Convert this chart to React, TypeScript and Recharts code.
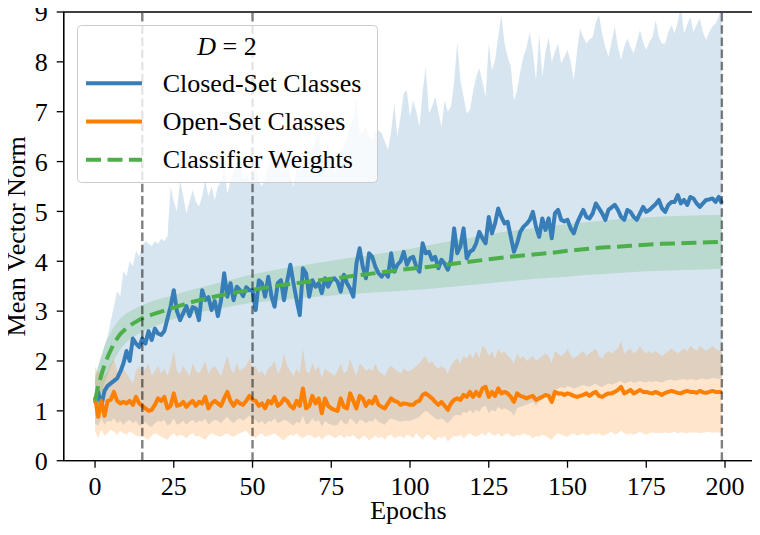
import React from 'react';
import {
  ComposedChart,
  Line,
  Area,
  XAxis,
  YAxis,
  ReferenceLine,
  ReferenceArea,
  Legend,
  Label,
} from 'recharts';

const FONT = '"Liberation Serif", "Times New Roman", Times, serif';
const C_BLUE = '#377eb8';
const C_ORANGE = '#ff7f00';
const C_GREEN = '#4daf4a';

const seriesNames = ['Closed-Set Classes', 'Open-Set Classes', 'Classifier Weights'];
const xTicks = [0, 25, 50, 75, 100, 125, 150, 175, 200];
const yTicks = [0, 1, 2, 3, 4, 5, 6, 7, 8, 9];
const markerEpochs = [15, 50, 199];

const epochs = Array.from({ length: 200 }, (_, i) => i);

const closedMean = [
  1.15, 1.38, 1.1, 1.4, 1.5, 1.55, 1.6, 1.65, 1.78, 1.95,
  2.2, 2.0, 2.45, 2.35, 2.28, 2.45, 2.35, 2.6, 2.42, 2.65,
  2.55, 2.52, 2.6, 2.85, 3.1, 3.42, 3.0, 2.82, 2.96, 3.1,
  2.9, 3.08, 3.05, 2.82, 3.42, 3.22, 3.28, 3.02, 3.2, 2.9,
  3.22, 3.76, 3.29, 3.56, 3.22, 3.49, 3.42, 3.3, 3.48, 3.42,
  3.42, 3.02, 3.62, 3.56, 3.29, 3.69, 3.3, 3.09, 3.56, 3.62,
  3.22, 3.6, 3.93, 3.56, 3.22, 2.92, 3.86, 3.76, 3.29, 3.62,
  3.49, 3.56, 3.36, 3.66, 3.49, 3.62, 3.66, 3.59, 3.39, 3.73,
  3.56, 3.45, 3.29, 3.96, 4.26, 3.89, 3.66, 4.16, 4.09, 3.89,
  3.76, 3.69, 3.79, 3.69, 4.16, 3.79, 3.93, 4.0, 4.19, 3.93,
  4.06, 4.09, 3.89, 3.79, 4.36, 4.16, 4.19, 4.03, 4.09, 3.86,
  4.03, 3.95, 3.83, 4.03, 4.66, 4.16, 4.3, 4.66, 4.06, 4.19,
  4.23, 4.36, 4.59, 4.46, 4.36, 4.89, 4.56, 4.76, 5.06, 4.89,
  4.76, 4.79, 4.49, 4.19, 4.36, 4.59, 4.69, 4.75, 4.83, 4.99,
  4.69, 4.49, 4.86, 4.63, 4.86, 4.46, 4.96, 5.03, 4.83, 4.8,
  4.83, 4.66, 4.56, 4.76, 4.9, 5.03, 4.89, 4.86, 4.96, 5.16,
  5.06, 4.96, 4.83, 5.03, 5.08, 5.13, 5.03, 4.89, 4.83, 5.03,
  4.99, 4.89, 4.83, 4.96, 5.09, 4.99, 5.03, 5.09, 5.15, 5.23,
  5.06, 4.99, 5.13, 5.19, 5.19, 5.33, 5.16, 5.23, 5.13, 5.29,
  5.26, 5.16, 5.09, 5.16, 5.23, 5.24, 5.26, 5.19, 5.29, 5.16,
];

const closedHigh = [
  1.7, 1.9, 2.1, 2.3, 2.5, 2.8, 3.1, 3.4, 3.3, 3.8,
  3.7, 4.0, 3.9, 4.2, 4.1, 4.3, 4.4, 4.35, 4.3, 4.4,
  4.35, 4.45, 4.4, 4.5, 5.5, 5.2, 5.0, 5.63, 5.3, 4.96,
  5.2, 5.43, 5.2, 5.1, 5.3, 5.63, 5.3, 5.5, 5.23, 5.5,
  5.6, 5.9, 5.36, 5.6, 5.8, 6.0, 6.3, 5.63, 5.8, 5.6,
  5.7, 5.9, 5.6, 5.5, 5.7, 5.9, 6.1, 5.9, 6.43, 5.76,
  5.9, 6.1, 5.7, 5.5, 5.9, 5.8, 6.0, 6.17, 6.0, 6.3,
  6.4, 6.57, 6.1, 6.2, 6.37, 6.0, 5.76, 6.0, 6.23, 6.3,
  6.5, 6.7, 6.9, 7.3, 6.57, 6.6, 6.7, 6.5, 6.43, 6.6,
  6.63, 6.57, 6.4, 6.23, 6.6, 7.17, 6.5, 6.9, 7.37, 7.43,
  6.9, 7.23, 7.0, 6.7, 7.4, 7.9, 6.97, 7.1, 7.3, 7.0,
  6.7, 7.23, 7.0, 7.1, 7.6, 8.4, 7.63, 7.3, 6.97, 7.03,
  7.4, 7.7, 7.87, 7.6, 7.3, 8.37, 7.83, 8.04, 8.5, 8.94,
  8.37, 8.1, 7.9, 7.23, 7.43, 7.8, 8.1, 8.3, 8.6, 8.2,
  7.63, 8.57, 7.7, 8.2, 8.5, 8.0, 8.2, 8.37, 7.97, 8.1,
  8.24, 8.0, 7.63, 8.2, 8.67, 8.5, 8.37, 8.45, 8.5, 8.8,
  8.94, 8.57, 8.3, 8.1, 8.4, 8.71, 8.3, 8.04, 8.3, 8.47,
  8.3, 8.17, 8.4, 8.64, 8.4, 8.24, 8.4, 8.5, 8.84, 8.5,
  8.37, 8.37, 8.6, 8.74, 8.57, 8.8, 9.1, 8.57, 8.75, 8.9,
  8.6, 8.75, 8.87, 8.6, 8.44, 8.6, 8.71, 8.77, 8.9, 9.2,
];

const closedLow = [
  0.75, 0.7, 0.85, 0.72, 0.8, 0.78, 0.85, 0.75, 0.8, 0.72,
  0.78, 0.82, 0.75, 0.8, 0.7, 0.72, 0.78, 0.7, 0.68, 0.75,
  0.8, 0.78, 0.82, 0.7, 0.75, 0.85, 0.72, 0.75, 0.8, 0.72,
  0.78, 0.82, 0.75, 0.8, 0.78, 0.85, 0.72, 0.78, 0.82, 0.8,
  0.75, 0.82, 0.88, 0.8, 0.75, 0.82, 0.85, 0.8, 0.85, 0.9,
  0.85, 0.82, 0.75, 0.8, 0.72, 0.8, 0.78, 0.85, 0.75, 0.78,
  0.82, 0.8, 0.75, 0.7, 0.78, 0.75, 0.9, 0.72, 0.75, 0.85,
  0.78, 0.82, 0.68, 0.8, 0.75, 0.72, 0.7, 0.72, 0.82, 0.75,
  0.72, 0.85, 0.8, 0.72, 0.82, 0.8, 0.75, 0.8, 0.78, 0.85,
  0.78, 0.75, 0.72, 0.8, 0.85, 0.82, 0.8, 0.78, 0.8, 0.8,
  0.8, 0.82, 0.85, 0.88, 0.95, 1.0, 0.95, 0.9, 0.85, 0.82,
  0.85, 0.8, 0.75, 0.82, 0.9, 0.92, 0.9, 0.98, 0.95, 1.02,
  0.95, 1.02, 0.98, 1.08, 1.1, 0.95, 1.02, 0.98, 1.08, 1.02,
  1.05, 1.02, 0.98, 0.9, 1.05, 1.08, 1.1, 1.12, 1.15, 1.18,
  1.1, 1.2, 1.25, 1.3, 1.28, 1.2, 1.42, 1.45, 1.48, 1.45,
  1.5, 1.48, 1.45, 1.47, 1.5, 1.52, 1.5, 1.48, 1.52, 1.55,
  1.5, 1.48, 1.52, 1.55, 1.53, 1.55, 1.58, 1.6, 1.55, 1.57,
  1.6, 1.56, 1.58, 1.6, 1.58, 1.57, 1.6, 1.58, 1.6, 1.58,
  1.57, 1.6, 1.62, 1.63, 1.6, 1.62, 1.63, 1.64, 1.62, 1.64,
  1.63, 1.62, 1.64, 1.65, 1.63, 1.64, 1.66, 1.65, 1.64, 1.66,
];

const openMean = [
  1.28, 0.88, 1.2, 0.9, 1.2, 1.22, 1.38, 1.2, 1.15, 1.18,
  1.15, 1.2, 1.12, 1.28, 1.15, 1.1, 1.05, 1.0, 1.02, 1.12,
  1.25, 1.2, 1.28, 1.05, 1.1, 1.35, 1.1, 1.12, 1.18, 1.08,
  1.15, 1.2, 1.1, 1.18, 1.15, 1.28, 1.05, 1.15, 1.2, 1.15,
  1.1, 1.25, 1.38, 1.2, 1.1, 1.2, 1.15, 1.12, 1.2, 1.3,
  1.22, 1.2, 1.1, 1.15, 1.05, 1.2, 1.15, 1.28, 1.1, 1.15,
  1.25, 1.2, 1.1, 1.05, 1.2, 1.1, 1.45, 1.05, 1.1, 1.3,
  1.15, 1.25, 0.95, 1.25, 1.1, 1.05, 1.02, 1.0, 1.25, 1.08,
  1.05, 1.35, 1.2, 1.05, 1.3, 1.25, 1.1, 1.2, 1.15, 1.28,
  1.12, 1.08, 1.05, 1.15, 1.25, 1.2, 1.18, 1.12, 1.15, 1.14,
  1.12, 1.12, 1.18, 1.2, 1.32, 1.35, 1.3, 1.25, 1.18, 1.12,
  1.18, 1.1, 1.02, 1.15, 1.22, 1.25, 1.22, 1.32, 1.28, 1.38,
  1.28, 1.38, 1.3, 1.45, 1.48, 1.28, 1.38, 1.3, 1.45, 1.35,
  1.38, 1.35, 1.28, 1.18, 1.35, 1.3, 1.28, 1.25, 1.28, 1.3,
  1.22, 1.25, 1.28, 1.32, 1.3, 1.18, 1.38, 1.35, 1.35, 1.32,
  1.35, 1.33, 1.3, 1.28, 1.3, 1.32, 1.35, 1.3, 1.35, 1.38,
  1.3, 1.28, 1.32, 1.35, 1.35, 1.38, 1.42, 1.48, 1.35, 1.38,
  1.42, 1.35, 1.38, 1.42, 1.38, 1.38, 1.36, 1.35, 1.38, 1.35,
  1.32, 1.36, 1.38, 1.4, 1.38, 1.36, 1.35, 1.38, 1.4, 1.38,
  1.38, 1.36, 1.4, 1.37, 1.36, 1.38, 1.4, 1.38, 1.38, 1.38,
];

const openHigh = [
  1.9, 1.75, 1.85, 1.7, 1.8, 1.95, 2.05, 1.8, 1.7, 1.85,
  1.75, 1.65, 1.55, 1.8, 1.9, 1.75, 1.85, 1.95, 1.7, 1.8,
  1.9, 1.75, 1.85, 1.7, 1.9, 2.2, 1.8, 1.75, 1.9, 1.8,
  1.7, 1.95, 1.8, 1.75, 1.85, 2.0, 1.75, 1.85, 1.9, 1.8,
  1.7, 1.9, 2.1, 1.85, 1.75, 1.95, 1.8, 1.85, 1.9, 2.05,
  1.85, 1.9, 1.75, 1.8, 1.7, 1.85, 1.9, 2.0, 1.75, 1.85,
  2.15, 1.9, 1.8, 1.7, 1.85, 1.75, 2.25, 1.8, 1.75, 1.95,
  1.8, 1.9, 1.65, 1.85, 1.8, 1.75, 1.7, 1.8, 1.95, 1.75,
  1.8, 2.05, 1.85, 1.7, 1.95, 1.9, 1.8, 1.85, 1.8, 1.95,
  1.8, 1.75, 1.7, 1.85, 1.9, 1.85, 1.8, 1.75, 1.85, 1.8,
  1.8, 1.85, 1.9, 1.95, 2.05, 2.1, 1.95, 2.0, 1.9, 1.85,
  1.9, 1.85, 1.75, 1.9, 2.0, 2.05, 1.95, 2.1, 2.05, 2.15,
  2.05, 2.2, 2.05, 2.3, 2.25, 2.1, 2.2, 2.05, 2.25, 2.15,
  2.2, 2.1, 2.05, 1.95, 2.15, 2.05, 2.1, 2.0, 2.05, 2.1,
  2.0, 2.05, 2.1, 2.15, 2.1, 1.95, 2.2, 2.15, 2.1, 2.15,
  2.25, 2.1, 2.05, 2.1, 2.15, 2.2, 2.1, 2.15, 2.2, 2.25,
  2.1, 2.05, 2.15, 2.2, 2.15, 2.2, 2.25, 2.4, 2.15, 2.2,
  2.25, 2.15, 2.2, 2.3, 2.2, 2.15, 2.2, 2.15, 2.2, 2.15,
  2.1, 2.15, 2.2, 2.25, 2.2, 2.15, 2.2, 2.25, 2.2, 2.3,
  2.25, 2.2, 2.3, 2.25, 2.2, 2.25, 2.3, 2.25, 2.2, 2.25,
];

const openLow = [
  0.6, 0.45, 0.62, 0.5, 0.55, 0.62, 0.58, 0.52, 0.6, 0.55,
  0.52, 0.58, 0.55, 0.5, 0.48, 0.52, 0.45, 0.42, 0.5, 0.55,
  0.52, 0.48, 0.45, 0.42, 0.5, 0.55, 0.48, 0.52, 0.5, 0.45,
  0.52, 0.55, 0.48, 0.5, 0.45, 0.42, 0.5, 0.55, 0.52, 0.5,
  0.48, 0.52, 0.55, 0.5, 0.48, 0.52, 0.55, 0.58, 0.6, 0.52,
  0.5, 0.45, 0.52, 0.55, 0.48, 0.5, 0.52, 0.55, 0.5, 0.45,
  0.4, 0.48, 0.52, 0.5, 0.55, 0.48, 0.45, 0.5, 0.52, 0.48,
  0.45, 0.5, 0.42, 0.48, 0.52, 0.5, 0.45, 0.48, 0.52, 0.45,
  0.5, 0.48, 0.52, 0.45, 0.42, 0.5, 0.48, 0.4, 0.45, 0.5,
  0.45, 0.48, 0.42, 0.5, 0.52, 0.45, 0.48, 0.5, 0.45, 0.52,
  0.5, 0.45, 0.55, 0.48, 0.42, 0.5, 0.52, 0.45, 0.4, 0.48,
  0.45, 0.5, 0.38, 0.45, 0.5, 0.48, 0.52, 0.45, 0.5, 0.55,
  0.5, 0.48, 0.52, 0.55, 0.5, 0.58, 0.52, 0.5, 0.55, 0.48,
  0.52, 0.55, 0.5, 0.48, 0.52, 0.5, 0.55, 0.52, 0.5, 0.45,
  0.5, 0.48, 0.52, 0.5, 0.45, 0.42, 0.5, 0.55, 0.52, 0.5,
  0.48, 0.52, 0.55, 0.5, 0.52, 0.55, 0.5, 0.52, 0.55, 0.52,
  0.55, 0.5, 0.52, 0.55, 0.58, 0.52, 0.55, 0.6, 0.55, 0.52,
  0.55, 0.52, 0.55, 0.58, 0.55, 0.52, 0.55, 0.57, 0.55, 0.56,
  0.55, 0.57, 0.55, 0.56, 0.58, 0.55, 0.57, 0.56, 0.55, 0.57,
  0.56, 0.57, 0.55, 0.56, 0.57, 0.58, 0.56, 0.57, 0.56, 0.57,
];

const weightEpochs = [
  0, 1, 2, 3, 4, 5, 6, 7, 8, 10, 12, 15, 18, 20, 25, 30, 35, 40, 45, 50,
  55, 60, 65, 70, 75, 80, 85, 90, 95, 100, 105, 110, 115, 120, 125, 130,
  135, 140, 145, 150, 155, 160, 165, 170, 175, 180, 185, 190, 195, 199,
];
const weightMean = [
  1.2, 1.5, 1.72, 1.92, 2.08, 2.22, 2.35, 2.45, 2.54, 2.66, 2.75, 2.86, 2.93, 2.97, 3.07, 3.17, 3.25, 3.32, 3.38, 3.43,
  3.48, 3.53, 3.57, 3.61, 3.65, 3.69, 3.73, 3.77, 3.81, 3.85, 3.88, 3.92, 3.96, 4.0, 4.04, 4.08,
  4.11, 4.14, 4.17, 4.21, 4.24, 4.27, 4.29, 4.31, 4.33, 4.35, 4.36, 4.37, 4.38, 4.39,
];
const weightLow = [
  0.9, 1.1, 1.35, 1.55, 1.72, 1.88, 2.02, 2.13, 2.23, 2.38, 2.48, 2.59, 2.67, 2.72, 2.84, 2.93, 3.0, 3.06, 3.12, 3.17,
  3.2, 3.23, 3.26, 3.29, 3.31, 3.34, 3.36, 3.38, 3.4, 3.42, 3.44, 3.47, 3.5, 3.53, 3.56, 3.59,
  3.62, 3.65, 3.67, 3.69, 3.72, 3.74, 3.76, 3.78, 3.8, 3.81, 3.82, 3.83, 3.84, 3.85,
];
const weightHigh = [
  1.6, 1.9, 2.1, 2.3, 2.45, 2.57, 2.68, 2.77, 2.85, 2.96, 3.03, 3.12, 3.2, 3.24, 3.32, 3.42, 3.5, 3.58, 3.66, 3.74,
  3.8, 3.86, 3.91, 3.96, 4.01, 4.06, 4.1, 4.15, 4.2, 4.25, 4.31, 4.37, 4.43, 4.48, 4.54, 4.59,
  4.63, 4.67, 4.71, 4.75, 4.78, 4.81, 4.84, 4.86, 4.88, 4.9, 4.91, 4.92, 4.93, 4.93,
];

const data = epochs.map((e, i) => ({
  epoch: e,
  closed: closedMean[i],
  closedBand: [closedLow[i], closedHigh[i]],
  open: openMean[i],
  openBand: [openLow[i], openHigh[i]],
}));

const weightData = weightEpochs.map((e, i) => ({
  epoch: e,
  weights: weightMean[i],
  weightBand: [weightLow[i], weightHigh[i]],
}));

const legendItems = [
  { name: seriesNames[0], color: C_BLUE, dash: undefined as string | undefined },
  { name: seriesNames[1], color: C_ORANGE, dash: undefined as string | undefined },
  { name: seriesNames[2], color: C_GREEN, dash: '15 6.5' },
];

function LegendBox() {
  return (
    <svg width={302} height={160} style={{ display: 'block', overflow: 'visible' }}>
      <rect x={0.5} y={0.5} width={300} height={157} rx={4} ry={4} fill="#ffffff" fillOpacity={0.8} stroke="#cccccc" strokeWidth={1} />
      <text x={150} y={30} textAnchor="middle" fontFamily={FONT} fontSize={26} fill="#000" style={{ whiteSpace: 'pre' }}>
        <tspan fontStyle="italic">D</tspan>
        <tspan>{' = 2'}</tspan>
      </text>
      {legendItems.map((it, i) => {
        const cy = 58.3 + i * 38.2;
        return (
          <g key={it.name}>
            <line x1={9} x2={65} y1={cy} y2={cy} stroke={it.color} strokeWidth={4} strokeDasharray={it.dash} />
            <text x={85.7} y={cy + 8.6} fontFamily={FONT} fontSize={26} fill="#000">
              {it.name}
            </text>
          </g>
        );
      })}
    </svg>
  );
}

const YLabel = (props: any) => {
  const vb = props.viewBox || { x: 0, y: 12, width: 63.7, height: 448.7 };
  const cy = vb.y + vb.height / 2;
  const cx = 25.5;
  return (
    <text x={cx} y={cy} transform={`rotate(-90 ${cx} ${cy})`} textAnchor="middle" fontFamily={FONT} fontSize={26} fill="#000">
      Mean Vector Norm
    </text>
  );
};

const XLabel = (props: any) => {
  const vb = props.viewBox || { x: 63.7, y: 460.7, width: 689.5, height: 74.3 };
  const cx = vb.x + vb.width / 2;
  return (
    <text x={cx} y={519} textAnchor="middle" fontFamily={FONT} fontSize={26} fill="#000">
      Epochs
    </text>
  );
};

const XTick = (props: any) => {
  const { x, y, payload } = props;
  return (
    <text x={x} y={y} dy="0.71em" textAnchor="middle" fontFamily={FONT} fontSize={26} fill="#000">
      {payload.value}
    </text>
  );
};

const YTick = (props: any) => {
  const { x, y, payload } = props;
  return (
    <text x={x} y={y} dy="0.355em" textAnchor="end" fontFamily={FONT} fontSize={26} fill="#000">
      {payload.value}
    </text>
  );
};

export default function App() {
  return (
    <div style={{ width: 760, height: 535, margin: -8, fontFamily: FONT }}>
      <ComposedChart width={760} height={535} data={data} margin={{ top: 12, right: 6.8, bottom: 0, left: 0 }}>
        <XAxis
          dataKey="epoch"
          type="number"
          domain={[-9.95, 208.95]}
          allowDataOverflow
          ticks={xTicks}
          interval={0}
          height={74.3}
          tickSize={7}
          tickMargin={9}
          tick={<XTick />}
          axisLine={{ stroke: '#000', strokeWidth: 1.3 }}
          tickLine={{ stroke: '#000', strokeWidth: 1.3 }}
        >
          <Label content={XLabel} />
        </XAxis>
        <YAxis
          type="number"
          domain={[0, 9]}
          allowDataOverflow
          ticks={yTicks}
          interval={0}
          width={63.7}
          tickSize={7}
          tickMargin={9}
          tick={<YTick />}
          axisLine={{ stroke: '#000', strokeWidth: 1.3 }}
          tickLine={{ stroke: '#000', strokeWidth: 1.3 }}
        >
          <Label content={YLabel} />
        </YAxis>

        <Area
          dataKey="closedBand"
          type="linear"
          stroke="none"
          fill={C_BLUE}
          fillOpacity={0.2}
          isAnimationActive={false}
          activeDot={false}
        />
        <Area
          dataKey="openBand"
          type="linear"
          stroke="none"
          fill={C_ORANGE}
          fillOpacity={0.2}
          isAnimationActive={false}
          activeDot={false}
        />
        <Area
          data={weightData}
          dataKey="weightBand"
          type="linear"
          stroke="none"
          fill={C_GREEN}
          fillOpacity={0.2}
          isAnimationActive={false}
          activeDot={false}
        />

        <Line
          dataKey="closed"
          type="linear"
          stroke={C_BLUE}
          strokeWidth={4}
          strokeLinejoin="round"
          dot={false}
          activeDot={false}
          isAnimationActive={false}
        />
        <Line
          dataKey="open"
          type="linear"
          stroke={C_ORANGE}
          strokeWidth={4}
          strokeLinejoin="round"
          dot={false}
          activeDot={false}
          isAnimationActive={false}
        />
        <Line
          data={weightData}
          dataKey="weights"
          type="linear"
          stroke={C_GREEN}
          strokeWidth={4}
          strokeDasharray="15 6.5"
          dot={false}
          activeDot={false}
          isAnimationActive={false}
        />

        {markerEpochs.map((m) => (
          <ReferenceLine
            key={m}
            x={m}
            stroke="#000"
            strokeOpacity={0.5}
            strokeWidth={2.4}
            strokeDasharray="8.5 3.7"
          />
        ))}

        <ReferenceArea
          x1={-9.95}
          x2={208.95}
          y1={0}
          y2={9}
          fill="none"
          fillOpacity={0}
          stroke="#000"
          strokeWidth={1.3}
          ifOverflow="visible"
        />

        <Legend
          layout="horizontal"
          verticalAlign="middle"
          align="center"
          content={() => <LegendBox />}
          wrapperStyle={{ position: 'absolute', left: 77.3, top: 25, width: 302, height: 160 }}
        />
      </ComposedChart>
    </div>
  );
}
